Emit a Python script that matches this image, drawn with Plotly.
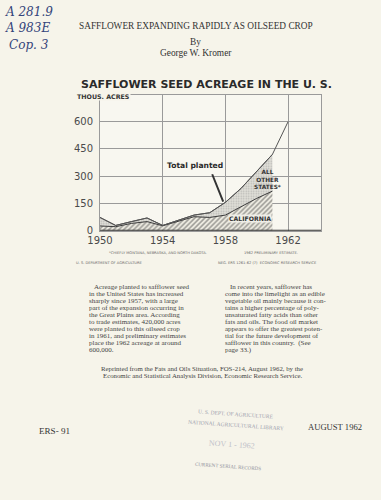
import plotly.graph_objects as go

# ---- data ----
years = [1950, 1951, 1952, 1953, 1954, 1955, 1956, 1957, 1958, 1959, 1960, 1961, 1962]
total_planted = [73, 29, 50, 70, 29, 59, 86, 99, 156, 233, 325, 420, 600]
ca_years = [1950, 1951, 1952, 1953, 1954, 1955, 1956, 1957, 1958, 1959, 1960, 1961]
california = [26, 22, 40, 50, 27, 53, 77, 73, 86, 132, 178, 218]
x_ticks = [1950, 1954, 1958, 1962]
y_ticks = [0, 150, 300, 450, 600]

left_col = ["Acreage planted to safflower seed",
            "in the United States has increased",
            "sharply since 1957, with a large",
            "part of the expansion occurring in",
            "the Great Plains area. According",
            "to trade estimates, 420,000 acres",
            "were planted to this oilseed crop",
            "in 1961, and preliminary estimates",
            "place the 1962 acreage at around",
            "600,000."]
right_col = ["In recent years, safflower has",
             "come into the limelight as an edible",
             "vegetable oil mainly because it con-",
             "tains a higher percentage of poly-",
             "unsaturated fatty acids than other",
             "fats and oils. The food oil market",
             "appears to offer the greatest poten-",
             "tial for the future development of",
             "safflower in this country.  (See",
             "page 33.)"]

W, H = 381, 500
PAGE = "#f6f4ea"
INK = "#3a3a3a"
CHART_FONT = "DejaVu Sans"
SERIF = "Liberation Serif"


def px(x):
    return x / W


def py(y):
    return 1 - y / H


fig = go.Figure()

# California (hatched)
fig.add_trace(go.Scatter(
    x=ca_years, y=california, mode="lines",
    line=dict(color="#3a3a3a", width=1),
    fill="tozeroy",
    fillpattern=dict(shape="/", fgcolor="#3f3f3f", bgcolor="#f2f0e6", size=3.5, solidity=0.45),
    hoverinfo="skip", showlegend=False,
))
# All other states (stippled), total through 1961
fig.add_trace(go.Scatter(
    x=ca_years, y=total_planted[:len(ca_years)], mode="lines",
    line=dict(color="#555", width=1),
    fill="tonexty",
    fillpattern=dict(shape=".", fgcolor="#8f8f8f", bgcolor="#e0dfd8", size=2.5, solidity=0.3),
    hoverinfo="skip", showlegend=False,
))
# Total planted line through 1962
fig.add_trace(go.Scatter(
    x=years, y=total_planted, mode="lines",
    line=dict(color="#555", width=1),
    hoverinfo="skip", showlegend=False,
))

fig.update_layout(
    width=W, height=H, autosize=False,
    margin=dict(l=0, r=0, t=0, b=0, pad=0, autoexpand=False),
    paper_bgcolor=PAGE, plot_bgcolor="#f8f7f0",
    xaxis=dict(
        domain=[px(100), px(321)], range=[1950, 1964.1],
        tickvals=x_ticks, ticktext=[str(v) for v in x_ticks],
        showgrid=True, gridcolor="#9a9a9a", gridwidth=1,
        showline=True, linecolor="#9a9a9a", linewidth=1, mirror=True,
        zeroline=False, ticks="", automargin=False,
        tickfont=dict(family=CHART_FONT, size=10, color="#4a4a4a"),
        fixedrange=True,
    ),
    yaxis=dict(
        domain=[py(230.7), py(95)], range=[0, 747],
        tickvals=y_ticks, ticktext=[str(v) for v in y_ticks],
        showgrid=True, gridcolor="#9a9a9a", gridwidth=1,
        showline=True, linecolor="#9a9a9a", linewidth=1, mirror=True,
        zeroline=False, ticks="", ticklabelstandoff=4, automargin=False,
        tickfont=dict(family=CHART_FONT, size=10, color="#4a4a4a"),
        fixedrange=True,
    ),
    showlegend=False,
)

# dark baseline at zero
fig.add_shape(type="line", xref="x", yref="y", x0=1950, x1=1964.1, y0=0, y1=0,
              line=dict(color="#333", width=2))


def txt(x, y, text, size, family=SERIF, color=INK, xanchor="center", bold=False,
        align="left", bgcolor=None, angle=0, italic=False):
    if bold:
        text = f"<b>{text}</b>"
    if italic:
        text = f"<i>{text}</i>"
    fig.add_annotation(x=px(x), y=py(y), xref="paper", yref="paper", text=text,
                       showarrow=False, xanchor=xanchor, yanchor="middle", align=align,
                       font=dict(family=family, size=size, color=color),
                       bgcolor=bgcolor, textangle=angle, borderpad=0)


# handwritten call number
HAND = "#34447a"
txt(4, 12, "A 281.9", 12, family="DejaVu Serif", color=HAND, xanchor="left", italic=True)
txt(4, 28, "A 983E", 12, family="DejaVu Serif", color=HAND, xanchor="left", italic=True)
txt(8, 45, "Cop. 3", 12, family="DejaVu Serif", color=HAND, xanchor="left", italic=True)

# header
txt(196, 26, "SAFFLOWER EXPANDING RAPIDLY AS OILSEED CROP", 9.3, color="#333")
txt(195, 42, "By", 9.3, color="#333")
txt(196, 53, "George W. Kromer", 9.4, color="#333")

# chart title
txt(206.5, 84, "SAFFLOWER SEED ACREAGE IN THE U. S.", 11, family=CHART_FONT, color="#2a2a2a", bold=True)
txt(76, 97, "THOUS. ACRES", 6.3, family=CHART_FONT, color="#333", xanchor="left", bold=True, bgcolor=PAGE)

# in-chart labels
txt(195, 165, "Total planted", 7.6, family=CHART_FONT, color="#2a2a2a", bold=True)
fig.add_annotation(x=1957.86, y=160, xref="x", yref="y", ax=1957.12, ay=319, axref="x", ayref="y",
                   text="", showarrow=True, arrowhead=0, arrowwidth=2, arrowcolor="#333")
txt(267, 179, "ALL<br>OTHER<br>STATES*", 5.8, family=CHART_FONT, color="#333", align="center", bold=True)
txt(250, 219, "CALIFORNIA", 6.2, family=CHART_FONT, color="#333", bold=True, bgcolor="#efeee7")

# footnotes
FOOT = "#666"
txt(108, 253, "*CHIEFLY MONTANA, NEBRASKA, AND NORTH DAKOTA.", 3.6, family=CHART_FONT, color=FOOT, xanchor="left")
txt(243, 253, "1962 PRELIMINARY ESTIMATE.", 3.6, family=CHART_FONT, color=FOOT, xanchor="left")
txt(75, 263, "U. S. DEPARTMENT OF AGRICULTURE", 3.6, family=CHART_FONT, color=FOOT, xanchor="left")
txt(217, 263, "NEG. ERS 1261-62 (7)  ECONOMIC RESEARCH SERVICE", 3.6, family=CHART_FONT, color=FOOT, xanchor="left")

# body text, one annotation per line
for i, line in enumerate(left_col):
    txt(93 if i == 0 else 88, 287 + 7 * i, line, 7, color="#444", xanchor="left")
for i, line in enumerate(right_col):
    txt(229 if i == 0 else 224, 287 + 7 * i, line, 7, color="#444", xanchor="left")

txt(202, 368, "Reprinted from the Fats and Oils Situation, FOS-214, August 1962, by the", 6.8, color="#444")
txt(202, 375.5, "Economic and Statistical Analysis Division, Economic Research Service.", 6.8, color="#444")

# footer
txt(38, 431, "ERS- 91", 9.1, color="#333", xanchor="left")
txt(307, 427, "AUGUST 1962", 8.6, color="#333", xanchor="left")

# library stamp
STAMP = "#9ea2ae"
txt(236, 414, "U. S. DEPT. OF AGRICULTURE", 5.5, family=SERIF, color=STAMP, angle=4)
txt(236, 425, "NATIONAL AGRICULTURAL LIBRARY", 5.5, family=SERIF, color=STAMP, angle=4)
txt(232, 444, "NOV 1 - 1962", 8, family=SERIF, color="#bfc1c9", angle=4)
txt(228, 466, "CURRENT SERIAL RECORDS", 5, family=SERIF, color="#8f919a", angle=4)

fig.write_html("out.html")
